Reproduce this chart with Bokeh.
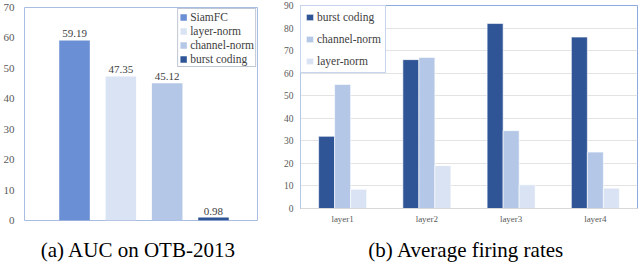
from bokeh.plotting import figure
from bokeh.models import (ColumnDataSource, Range1d, FactorRange, Legend, LegendItem,
                          LinearAxis, FixedTicker, LabelSet)
from bokeh.transform import dodge
from bokeh.layouts import row, column
from bokeh.embed import file_html
from bokeh.resources import INLINE

# ---------------- data ----------------
methods = ["SiamFC", "layer-norm", "channel-norm", "burst coding"]
auc_values = [59.19, 47.35, 45.12, 0.98]
auc_ticks = [0, 10, 20, 30, 40, 50, 60, 70]

layers = ["layer1", "layer2", "layer3", "layer4"]
rate_burst = [32, 66, 82, 76]
rate_channel = [55, 67, 34.5, 25]
rate_layer = [8.5, 19, 10.5, 9]
rate_ticks = [0, 10, 20, 30, 40, 50, 60, 70, 80, 90]

caption_a = "(a)  AUC on OTB-2013"
caption_b = "(b)  Average firing rates"

# ---------------- styles ----------------
FONT = "Liberation Serif"
C_SIAM = "#6b8fd4"
C_LAYER = "#dae3f3"
C_CHANNEL = "#b4c7e7"
C_BURST = "#2f5597"
TICK_COLOR = "#595959"

# ---------------- (a) AUC ----------------
src1 = ColumnDataSource(dict(
    x=[1, 2, 3, 4],
    top=auc_values,
    method=methods,
    color=[C_SIAM, C_LAYER, C_CHANNEL, C_BURST],
    label=[f"{v:.2f}" for v in auc_values],
))

p1 = figure(width=270, height=264, x_range=Range1d(-0.08, 4.95), y_range=Range1d(0, 70),
            output_backend="svg", toolbar_location=None, x_axis_type=None,
            min_border_left=22, min_border_right=13, min_border_top=7, min_border_bottom=42)
p1.outline_line_color = "#a9bde3"
p1.grid.visible = False

r1 = p1.vbar(x="x", top="top", width=0.66, color="color", line_color=None, source=src1)

p1.yaxis.ticker = FixedTicker(ticks=auc_ticks)
p1.yaxis.axis_line_color = None
p1.yaxis.major_tick_line_color = None
p1.yaxis.minor_tick_line_color = None
p1.yaxis.major_tick_out = 0
p1.yaxis.major_label_standoff = 10
p1.yaxis.major_label_text_font = FONT
p1.yaxis.major_label_text_font_size = "11px"
p1.yaxis.major_label_text_color = TICK_COLOR

xa1 = LinearAxis(ticker=FixedTicker(ticks=[]), axis_line_color=None,
                 major_tick_line_color=None, minor_tick_line_color=None,
                 major_tick_out=0, major_label_standoff=0, axis_label=caption_a,
                 axis_label_standoff=17, axis_label_text_font=FONT,
                 axis_label_text_font_size="21px", axis_label_text_font_style="normal",
                 axis_label_text_color="black")
p1.add_layout(xa1, "below")

lbl1 = LabelSet(x="x", y="top", text="label", source=src1, y_offset=3,
                text_align="center", text_baseline="bottom",
                text_font=FONT, text_font_size="11px", text_color="#404040")
p1.add_layout(lbl1)

leg1 = Legend(items=[LegendItem(label=m, renderers=[r1], index=i) for i, m in enumerate(methods)],
              location="top_right", margin=1, padding=1, spacing=1, label_height=13,
              glyph_width=8, glyph_height=8, label_standoff=3,
              label_text_font=FONT, label_text_font_size="11.5px", label_text_color="#404040",
              border_line_color="#7f8fa9", border_line_width=1,
              background_fill_alpha=1)
p1.add_layout(leg1)

# ---------------- (b) firing rates ----------------
src2 = ColumnDataSource(dict(layer=layers, burst=rate_burst, channel=rate_channel, layern=rate_layer))

p2 = figure(width=370, height=264, x_range=FactorRange(*layers), y_range=Range1d(0, 90),
            output_backend="svg", toolbar_location=None,
            min_border_left=30, min_border_right=3, min_border_top=5, min_border_bottom=53)
p2.outline_line_color = "#8faadc"
p2.xgrid.visible = False
p2.ygrid.grid_line_color = "#e3e3e3"
p2.ygrid.ticker = FixedTicker(ticks=rate_ticks)

bw = 0.19
rb = p2.vbar(x=dodge("layer", -bw, range=p2.x_range), top="burst", width=bw,
             color=C_BURST, line_color="white", line_width=0.6, source=src2)
rc = p2.vbar(x=dodge("layer", 0, range=p2.x_range), top="channel", width=bw,
             color=C_CHANNEL, line_color="white", line_width=0.6, source=src2)
rl = p2.vbar(x=dodge("layer", bw, range=p2.x_range), top="layern", width=bw,
             color=C_LAYER, line_color="white", line_width=0.6, source=src2)

p2.yaxis.ticker = FixedTicker(ticks=rate_ticks)
p2.yaxis.axis_line_color = "#b4c7e7"
p2.yaxis.major_tick_line_color = None
p2.yaxis.minor_tick_line_color = None
p2.yaxis.major_tick_out = 0
p2.yaxis.major_label_standoff = 7
p2.yaxis.major_label_text_font = FONT
p2.yaxis.major_label_text_font_size = "9.5px"
p2.yaxis.major_label_text_color = TICK_COLOR

p2.xaxis.axis_line_color = "#d9d9d9"
p2.xaxis.major_tick_line_color = None
p2.xaxis.minor_tick_line_color = None
p2.xaxis.major_tick_out = 0
p2.xaxis.major_label_standoff = 5
p2.xaxis.major_label_text_font = FONT
p2.xaxis.major_label_text_font_size = "9px"
p2.xaxis.major_label_text_color = TICK_COLOR
p2.xaxis.axis_label = caption_b
p2.xaxis.axis_label_standoff = 11
p2.xaxis.axis_label_text_font = FONT
p2.xaxis.axis_label_text_font_size = "21px"
p2.xaxis.axis_label_text_font_style = "normal"
p2.xaxis.axis_label_text_color = "black"

leg2 = Legend(items=[LegendItem(label="burst coding", renderers=[rb]),
                     LegendItem(label="channel-norm", renderers=[rc]),
                     LegendItem(label="layer-norm", renderers=[rl])],
              location="top_left", margin=0, padding=4, spacing=8, label_height=14,
              glyph_width=9, glyph_height=8, label_standoff=3,
              label_text_font=FONT, label_text_font_size="11.5px", label_text_color="#404040",
              border_line_color="#8faadc", border_line_width=1.2,
              background_fill_alpha=1)
p2.add_layout(leg2)

# keep the two plot frames independent (the two panels have different frame extents)
for p in (p1, p2):
    if "frame_align" in p.properties():
        p.frame_align = False

layout = row(column(p1), column(p2))
open("out.html", "w").write(file_html(layout, INLINE))
